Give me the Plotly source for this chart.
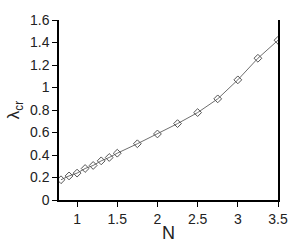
import plotly.graph_objects as go

N = [0.8, 0.9, 1.0, 1.1, 1.2, 1.3, 1.4, 1.5, 1.75, 2.0, 2.25, 2.5, 2.75, 3.0, 3.25, 3.5]
lam = [0.18, 0.214, 0.239, 0.28, 0.307, 0.348, 0.378, 0.416, 0.50, 0.587, 0.679, 0.777, 0.899, 1.068, 1.26, 1.42]

x_ticks = [1, 1.5, 2, 2.5, 3, 3.5]
x_labels = ["1", "1.5", "2", "2.5", "3", "3.5"]
y_ticks = [0, 0.2, 0.4, 0.6, 0.8, 1.0, 1.2, 1.4, 1.6]
y_labels = ["0", "0.2", "0.4", "0.6", "0.8", "1", "1.2", "1.4", "1.6"]

fig = go.Figure(go.Scatter(
    x=N, y=lam, mode="lines+markers",
    line=dict(color="#6e6e6e", width=1),
    marker=dict(symbol="diamond-open", size=6, color="#555555", line=dict(width=1)),
))

font = dict(family="Liberation Sans, Arial, sans-serif", color="#222222", size=14)
fig.update_layout(
    width=300, height=252,
    margin=dict(l=55, r=13, t=16, b=40),
    paper_bgcolor="white", plot_bgcolor="white",
    showlegend=False, font=font,
    xaxis=dict(range=[0.775, 3.5], tickvals=x_ticks, ticktext=x_labels,
               showgrid=False, zeroline=False, showline=True, linecolor="black", linewidth=1.5,
               ticks="outside", ticklen=5, tickcolor="black",
               title=dict(text="N", font=dict(size=18), standoff=1)),
    yaxis=dict(range=[0, 1.6], tickvals=y_ticks, ticktext=y_labels,
               showgrid=False, zeroline=False, showline=True, mirror=True, linecolor="black", linewidth=1.5,
               ticks="outside", ticklen=5, tickcolor="black",
               title=dict(text="λ<sub>cr</sub>", font=dict(size=17), standoff=6)),
)
fig.write_html("out.html", config={"displayModeBar": False},
               post_script="document.body.style.margin='0';document.body.style.overflow='hidden';")
